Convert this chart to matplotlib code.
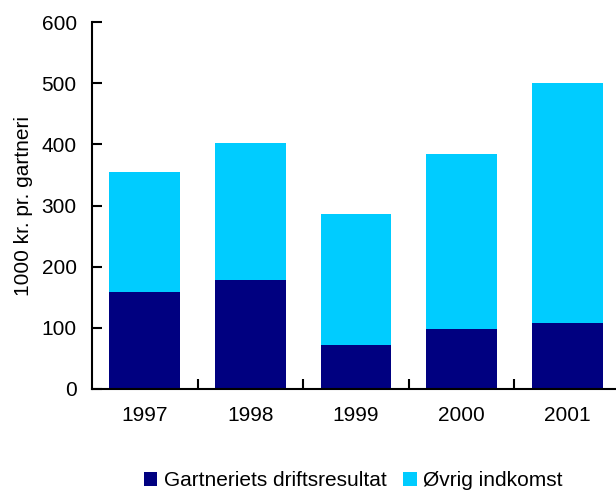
import matplotlib
matplotlib.use("Agg")
import matplotlib.pyplot as plt
import numpy as np

years = ["1997", "1998", "1999", "2000", "2001"]
drift = [158, 178, 72, 98, 108]
ovrig = [197, 224, 214, 286, 392]
series_names = ["Gartneriets driftsresultat", "Øvrig indkomst"]
colors = ["#000080", "#00CCFF"]

plt.rcParams['font.family'] = ['Liberation Sans', 'DejaVu Sans']
FS = 15

W, H = 616, 493
fig = plt.figure(figsize=(W / 100, H / 100), dpi=100)
left, right = 92, 620
top, bottom = 22, 389
ax = fig.add_axes([left / W, 1 - bottom / H, (right - left) / W, (bottom - top) / H])

x = np.arange(len(years))
b1 = ax.bar(x, drift, width=0.67, color=colors[0], label=series_names[0])
b2 = ax.bar(x, ovrig, bottom=drift, width=0.67, color=colors[1], label=series_names[1])

ax.set_xlim(-0.5, len(years) - 0.5)
ax.set_ylim(0, 600)
ax.set_yticks(range(0, 601, 100))
ax.set_xticks(x)
ax.set_xticklabels(years, fontsize=FS)
ax.set_xticks(np.arange(0.5, len(years) - 0.5, 1), minor=True)
ax.tick_params(axis='x', which='major', length=0, pad=12)
ax.tick_params(axis='x', which='minor', direction='in', length=7, width=1.5, color='black')
ax.tick_params(axis='y', direction='in', length=7, width=1.5, labelsize=FS, pad=11)
for s in ['top', 'right']:
    ax.spines[s].set_visible(False)
for s in ['left', 'bottom']:
    ax.spines[s].set_linewidth(1.5)

ax.set_ylabel("1000 kr. pr. gartneri", fontsize=FS, labelpad=6)

fig.legend(handles=[b1, b2], labels=series_names, loc='center', bbox_to_anchor=(353 / W, 1 - 481 / H),
           ncol=2, frameon=False, fontsize=FS, handlelength=0.65, handleheight=0.65,
           handletextpad=0.3, columnspacing=0.8)

fig.savefig("out.png", dpi=100)
